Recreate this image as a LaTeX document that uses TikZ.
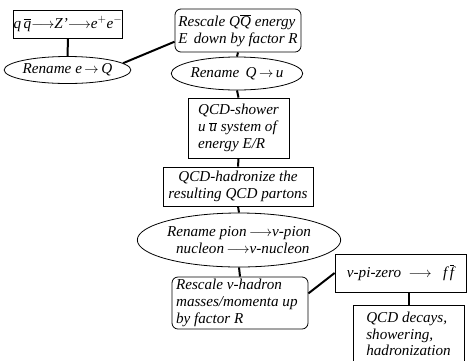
\documentclass[tikz,border=0pt]{standalone}
\usepackage{fontspec}
\setmainfont{Liberation Serif}[ItalicFont={Liberation Serif Italic}]
\usetikzlibrary{shapes.geometric}
\newcommand{\ovl}[1]{$\overline{\mbox{\textit{#1}}}$}
\tikzset{
  txt/.style={font=\fontsize{15.2}{16.8}\selectfont\itshape, inner sep=0pt},
  sqbox/.style={txt, draw, line width=0.8pt, rectangle},
  rdbox/.style={txt, draw, line width=0.8pt, rectangle, rounded corners=6pt},
  ovbox/.style={txt, draw, line width=0.8pt, ellipse},
  link/.style={line width=2pt}
}
\begin{document}
\begin{tikzpicture}[x=1bp,y=-1bp]
\useasboundingbox (0,0) rectangle (476,360);
\clip (0,0) rectangle (476,360);
\node[sqbox, minimum width=102bp, minimum height=28bp] (b1) at (68,24)
  {q\,\ovl{q}$\longrightarrow$Z'$\longrightarrow$e$^{+}$e$^{-}$};
\node[ovbox, minimum width=121bp, minimum height=27bp] (e1) at (67.5,70)
  {Rename e\,$\rightarrow$\,Q};
\node[rdbox, minimum width=126bp, minimum height=43bp, align=left] (b2) at (238,30.5)
  {Rescale Q\ovl{Q} energy\\E\,\ down by factor R};
\node[ovbox, minimum width=118bp, minimum height=33bp] (e2) at (237,73.5)
  {Rename\, Q\,$\rightarrow$\,u};
\node[sqbox, minimum width=101bp, minimum height=60bp, align=left] (b3) at (238.5,128)
  {QCD-shower\\u \ovl{u} system of\\energy E/R};
\node[sqbox, minimum width=150bp, minimum height=39bp, align=center] (b4) at (238,186.5)
  {QCD-hadronize the\\resulting QCD partons};
\node[ovbox, minimum width=174bp, minimum height=54bp, align=center] (e3) at (239,240)
  {Rename pion\,$\longrightarrow$v-pion\\\ \ nucleon\,$\longrightarrow$v-nucleon};
\node[rdbox, minimum width=136bp, minimum height=52bp, align=left] (b5) at (240,303)
  {Rescale v-hadron\\masses/momenta up\\by factor R\hspace*{4em}};
\node[sqbox, minimum width=131bp, minimum height=38bp] (b6) at (400.5,273)
  {v-pi-zero\ \ $\longrightarrow$\ \ \ f\,\ovl{f}};
\node[sqbox, minimum width=111bp, minimum height=57bp, align=left, anchor=north] (b7) at (408.5,305)
  {QCD decays,\\showering,\\hadronization};
\draw[link] (b1.south) -- (e1.north);
\draw[link] (e1.7) -- (b2.190);
\draw[link] (b2.south) -- (e2.north);
\draw[link] (e2.south) -- (b3.north);
\draw[link] (b3.south) -- (b4.north);
\draw[link] (b4.south) -- (e3.north);
\draw[link] (e3.south) -- (b5.north);
\draw[link] (b5.8) -- (b6.west);
\draw[link] (b7.north |- b6.south) -- (b7.north);
\end{tikzpicture}
\end{document}
